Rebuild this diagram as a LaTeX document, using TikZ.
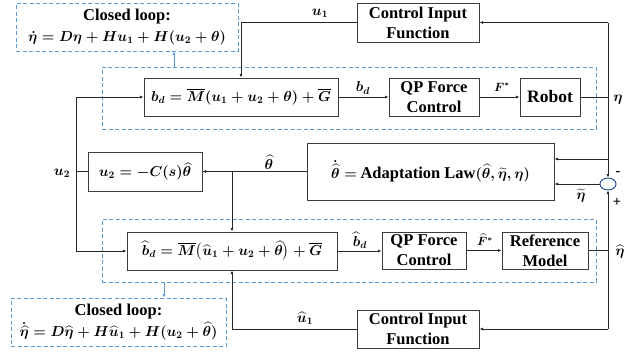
\documentclass[tikz,border=0pt]{standalone}
\usepackage{amsmath}
\usepackage{fontspec}
\setmainfont{Liberation Serif}
\usetikzlibrary{arrows.meta,shapes.geometric,calc}
\definecolor{dblue}{RGB}{91,155,213}
\definecolor{lineg}{RGB}{60,60,60}
\definecolor{sumblue}{RGB}{47,85,151}
\newcommand{\mfa}{\fontsize{14.4}{18}\selectfont}
\begin{document}
\begin{tikzpicture}[x=1pt,y=-1pt,
  font=\fontsize{16.5}{20}\selectfont\bfseries\boldmath,
  blk/.style={draw=lineg,line width=1pt,inner sep=0pt,align=center,fill=white},
  dbox/.style={draw=dblue,line width=0.8pt,dash pattern=on 4pt off 2.5pt,inner sep=0pt,align=center},
  arr/.style={draw=black!85,line width=0.8pt,-{Latex[length=3.5pt,width=3pt]}},
  ln/.style={draw=black!85,line width=0.8pt},
  barr/.style={draw=dblue,line width=0.8pt,-{Latex[length=3.5pt,width=3pt]}},
  lbl/.style={inner sep=0pt,font=\fontsize{14.4}{16}\selectfont\bfseries\boldmath}]
\useasboundingbox (0,0) rectangle (639,354);
% dashed group boxes
\node[dbox,minimum width=494pt,minimum height=62pt] (dash1) at (349,98) {};
\node[dbox,minimum width=494pt,minimum height=63pt] (dash2) at (349,250.5) {};
\node[dbox,minimum width=222pt,minimum height=48pt] (cl1) at (127,27) {Closed loop:\\[1pt] \mfa$\dot{\eta}=D\eta+Hu_1+H(u_2+\theta)$};
\node[dbox,minimum width=215pt,minimum height=48pt] (cl2) at (118.5,322) {Closed loop:\\[1pt] \mfa$\dot{\widehat{\eta}}=D\widehat{\eta}+H\widehat{u}_1+H(u_2+\widehat{\theta})$};
% blocks
\node[blk,minimum width=122pt,minimum height=39pt] (cif1) at (418,22.5) {Control Input\\Function};
\node[blk,minimum width=194pt,minimum height=38pt] (bd) at (241,97) {\mfa$b_d=\overline{M}(u_1+u_2+\theta)+\overline{G}$};
\node[blk,minimum width=90pt,minimum height=38pt] (qp1) at (434,97) {QP Force\\Control};
\node[blk,minimum width=60pt,minimum height=38pt] (robot) at (550,97) {\fontsize{17.5}{20}\selectfont Robot};
\node[blk,minimum width=247pt,minimum height=57pt] (adapt) at (430.5,171.5) {\mfa$\dot{\widehat{\theta}}=$ {\fontsize{16.5}{20}\selectfont Adaptation Law}$(\widehat{\theta},\widetilde{\eta},\eta)$};
\node[blk,minimum width=114pt,minimum height=39pt] (u2box) at (145,171.5) {\mfa$u_2=-C(s)\widehat{\theta}$};
\node[blk,minimum width=210pt,minimum height=38pt] (bhd) at (232,251) {\mfa$\widehat{b}_d=\overline{M}\bigl(\widehat{u}_1+u_2+\widehat{\theta}\bigr)+\overline{G}$};
\node[blk,minimum width=84pt,minimum height=37pt] (qp2) at (424,250.5) {QP Force\\Control};
\node[blk,minimum width=86pt,minimum height=37pt] (ref) at (545,250.5) {Reference\\Model};
\node[blk,minimum width=122pt,minimum height=38pt] (cif2) at (418,329) {Control Input\\Function};
\node[draw=sumblue,line width=1pt,fill=white,ellipse,minimum width=16pt,minimum height=12pt,inner sep=0pt] (sum) at (608,184) {};
% coordinates
\coordinate (u2j) at (76,171.5);
\coordinate (b1) at (174,67);
\coordinate (b2) at (164,282);
\coordinate (ain) at ($(adapt.east)+(0,-12.5)$);
% connectors upper loop
\draw[ln] (robot.east) -- (sum.north |- robot.east);
\draw[arr] (sum.north |- cif1.east) -- (cif1.east);
\draw[arr] (sum.north |- cif1.east) -- (sum.north);
\draw[arr] (cif1.west) -| (bd.north);
\draw[arr] (bd.east) -- (qp1.west);
\draw[arr] (qp1.east) -- (robot.west);
\draw[arr] (sum.north |- ain) -- (ain);
\draw[arr] (sum.west) -- (adapt.east |- sum.west);
% theta hat
\draw[arr] (adapt.west) -- (u2box.east);
\draw[arr] (bhd.north |- adapt.west) -- (bhd.north);
\draw[ln] (u2box.west) -- (u2j);
\draw[arr] (u2j) |- (bd.west);
\draw[arr] (u2j) |- (bhd.west);
% lower loop
\draw[arr] (bhd.east) -- (qp2.west |- bhd.east);
\draw[arr] (qp2.east) -- (ref.west);
\draw[ln] (ref.east) -- (sum.south |- ref.east);
\draw[arr] (sum.south |- cif2.east) -- (sum.south);
\draw[arr] (sum.south |- cif2.east) -- (cif2.east);
\draw[arr] (cif2.west) -| (bhd.south);
% blue arrows
\draw[barr] (b1) -- (b1 |- cl1.south);
\draw[barr] (b2) -- (b2 |- cl2.north);
% labels
\node[lbl] (lu1) at (320,13) {$u_1$};
\node[lbl] (lu2) at (62,173) {$u_2$};
\node[lbl] (lth) at (269,162) {$\widehat{\theta}$};
\node[lbl] (letat) at (581,196) {$\widetilde{\eta}$};
\node[lbl] (leta) at (618,100) {$\eta$};
\node[lbl] (letah) at (620,252) {$\widehat{\eta}$};
\node[lbl] (lbd) at (363,88) {$b_d$};
\node[lbl] (lF) at (502,87) {\fontsize{12}{14}\selectfont$F^{*}$};
\node[lbl] (lbhd) at (360,240) {$\widehat{b}_d$};
\node[lbl] (lFh) at (485,240) {\fontsize{12}{14}\selectfont$\widehat{F}^{*}$};
\node[lbl] (luh1) at (305,318) {$\widehat{u}_1$};
\node[lbl] (lminus) at (618,173) {-};
\node[lbl] (lplus) at (617,202) {+};
\end{tikzpicture}
\end{document}
